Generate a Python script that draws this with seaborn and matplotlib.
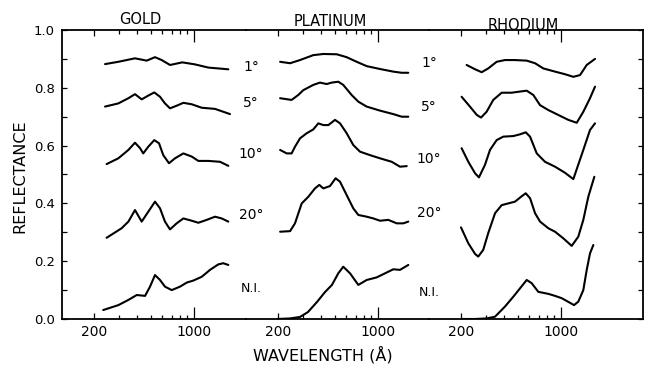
import numpy as np
import pandas as pd
import matplotlib
matplotlib.use('Agg')
import matplotlib.pyplot as plt
import matplotlib.transforms as mtransforms
from matplotlib.ticker import FixedLocator, NullFormatter, MultipleLocator
import seaborn as sns

# Reflectance curves: (wavelength in Angstrom, reflectance)
gold_1 = [(239, 0.882), (296, 0.890), (387, 0.902), (467, 0.894), (534, 0.906), (595, 0.896),
          (680, 0.879), (829, 0.888), (1017, 0.881), (1260, 0.870), (1739, 0.864)]
gold_5 = [(239, 0.735), (296, 0.746), (348, 0.764), (387, 0.778), (431, 0.760), (479, 0.773),
          (528, 0.784), (579, 0.769), (627, 0.746), (680, 0.729), (757, 0.738), (843, 0.748),
          (965, 0.743), (1133, 0.731), (1404, 0.727), (1787, 0.709)]
gold_10 = [(245, 0.536), (296, 0.556), (348, 0.585), (387, 0.610), (420, 0.591), (442, 0.573),
           (479, 0.596), (528, 0.619), (570, 0.608), (610, 0.567), (669, 0.539), (737, 0.556),
           (843, 0.573), (965, 0.562), (1073, 0.547), (1260, 0.547), (1521, 0.544), (1739, 0.530)]
gold_20 = [(245, 0.281), (312, 0.314), (348, 0.337), (387, 0.377), (431, 0.337), (479, 0.371),
           (534, 0.406), (579, 0.383), (627, 0.337), (680, 0.310), (757, 0.331), (843, 0.348),
           (965, 0.340), (1073, 0.333), (1228, 0.343), (1404, 0.354), (1563, 0.348), (1739, 0.337)]
gold_ni = [(232, 0.031), (296, 0.048), (348, 0.066), (398, 0.083), (455, 0.080), (493, 0.112),
           (534, 0.152), (579, 0.135), (627, 0.112), (699, 0.100), (799, 0.112), (890, 0.126),
           (990, 0.133), (1133, 0.146), (1295, 0.170), (1480, 0.189), (1604, 0.193), (1739, 0.187)]

pt_1 = [(207, 0.890), (243, 0.885), (285, 0.896), (353, 0.913), (415, 0.917), (515, 0.916),
        (604, 0.906), (710, 0.890), (834, 0.875), (1034, 0.865), (1280, 0.856), (1466, 0.852),
        (1630, 0.852)]
pt_5 = [(207, 0.764), (249, 0.758), (277, 0.775), (301, 0.792), (353, 0.810), (393, 0.818),
        (438, 0.813), (475, 0.818), (528, 0.821), (572, 0.810), (655, 0.775), (729, 0.752),
        (834, 0.735), (1034, 0.721), (1280, 0.709), (1466, 0.700), (1630, 0.700)]
pt_10 = [(207, 0.585), (230, 0.573), (249, 0.573), (263, 0.596), (285, 0.625), (318, 0.643),
         (353, 0.656), (383, 0.677), (415, 0.671), (450, 0.671), (501, 0.689), (543, 0.677),
         (604, 0.643), (672, 0.602), (749, 0.579), (880, 0.567), (1034, 0.556), (1248, 0.544),
         (1426, 0.527), (1589, 0.529)]
pt_20 = [(207, 0.302), (243, 0.304), (263, 0.331), (293, 0.400), (326, 0.423), (363, 0.452),
         (389, 0.464), (415, 0.452), (462, 0.460), (506, 0.487), (543, 0.475), (604, 0.429),
         (672, 0.383), (729, 0.360), (834, 0.354), (928, 0.348), (1034, 0.340), (1181, 0.343),
         (1353, 0.331), (1504, 0.331), (1630, 0.337)]
pt_ni = [(197, 0.000), (243, 0.002), (285, 0.007), (324, 0.024), (375, 0.059), (426, 0.093),
         (477, 0.118), (528, 0.158), (572, 0.181), (638, 0.158), (729, 0.118), (834, 0.135),
         (980, 0.144), (1120, 0.158), (1280, 0.172), (1426, 0.170), (1630, 0.187)]

rh_1 = [(219, 0.879), (251, 0.864), (279, 0.854), (310, 0.867), (355, 0.890), (406, 0.896),
        (477, 0.896), (576, 0.894), (659, 0.885), (753, 0.867), (909, 0.856), (1067, 0.847),
        (1220, 0.838), (1359, 0.844), (1514, 0.879), (1730, 0.900)]
rh_5 = [(202, 0.769), (231, 0.735), (258, 0.706), (276, 0.697), (302, 0.717), (336, 0.758),
        (385, 0.783), (452, 0.783), (517, 0.787), (576, 0.790), (641, 0.775), (714, 0.740),
        (816, 0.723), (958, 0.706), (1126, 0.689), (1289, 0.679), (1433, 0.717), (1596, 0.764),
        (1730, 0.804)]
rh_10 = [(202, 0.591), (225, 0.544), (251, 0.504), (267, 0.490), (294, 0.533), (319, 0.585),
         (355, 0.619), (395, 0.631), (464, 0.633), (517, 0.639), (567, 0.646), (608, 0.631),
         (677, 0.573), (773, 0.544), (909, 0.527), (1067, 0.506), (1220, 0.484), (1433, 0.585),
         (1596, 0.654), (1730, 0.677)]
rh_20 = [(200, 0.317), (225, 0.262), (251, 0.225), (264, 0.216), (286, 0.239), (310, 0.297),
         (346, 0.366), (385, 0.394), (428, 0.400), (477, 0.406), (526, 0.423), (567, 0.435),
         (608, 0.418), (659, 0.366), (714, 0.337), (816, 0.314), (909, 0.302), (1039, 0.279),
         (1189, 0.253), (1322, 0.285), (1433, 0.343), (1553, 0.423), (1711, 0.492)]
rh_ni = [(202, 0.000), (250, 0.000), (302, 0.002), (346, 0.008), (406, 0.043), (464, 0.077),
         (517, 0.106), (576, 0.135), (624, 0.124), (694, 0.094), (816, 0.087), (909, 0.080),
         (1012, 0.072), (1157, 0.056), (1234, 0.048), (1322, 0.060), (1433, 0.100), (1514, 0.170),
         (1596, 0.227), (1684, 0.256)]

metals = ['GOLD', 'PLATINUM', 'RHODIUM']
angles = ['1°', '5°', '10°', '20°', 'N.I.']
curves = {
    'GOLD': [gold_1, gold_5, gold_10, gold_20, gold_ni],
    'PLATINUM': [pt_1, pt_5, pt_10, pt_20, pt_ni],
    'RHODIUM': [rh_1, rh_5, rh_10, rh_20, rh_ni],
}

# label heights (reflectance) for the angle labels between panels
labels_gold_pt = [0.873, 0.746, 0.571, 0.360, 0.106]
labels_pt_rh = [0.885, 0.733, 0.553, 0.366, 0.091]

rows = []
for metal in metals:
    for angle, pts in zip(angles, curves[metal]):
        for wl, r in pts:
            rows.append((metal, angle, wl, r))
df = pd.DataFrame(rows, columns=['metal', 'angle', 'wavelength', 'reflectance'])

sns.set_style('ticks')
plt.rcParams['font.family'] = ['DejaVu Sans']
plt.rcParams['text.color'] = 'black'
plt.rcParams['xtick.color'] = 'black'
plt.rcParams['ytick.color'] = 'black'
plt.rcParams['axes.edgecolor'] = 'black'

fig = plt.figure(figsize=(6.51, 3.66), dpi=100)
xlims = [(119.5, 2311), (119.5, 2275), (119.5, 3746)]
widths = [np.log10(b / a) for a, b in xlims]
gs = fig.add_gridspec(1, 3, width_ratios=widths, wspace=0,
                      left=62 / 651, right=643 / 651, top=1 - 30 / 366, bottom=1 - 319 / 366)
axes = [fig.add_subplot(gs[0, i]) for i in range(3)]

title_pos = [(0.424, 1.035), (0.459, 1.028), (0.439, 1.017)]

for i, (ax, metal) in enumerate(zip(axes, metals)):
    ax.set_facecolor('none')
    ax.set_xscale('log')
    sub = df[df['metal'] == metal]
    sns.lineplot(data=sub, x='wavelength', y='reflectance', units='angle', estimator=None,
                 color='black', linewidth=1.5, legend=False, ax=ax,
                 solid_joinstyle='round', solid_capstyle='round')
    ax.set_xlim(*xlims[i])
    ax.set_ylim(0, 1.0)
    ax.set_xlabel('')
    ax.set_ylabel('')

    ax.set_xticks([200, 1000], labels=['200', '1000'])
    ax.xaxis.set_minor_locator(FixedLocator([300, 400, 500, 600, 700, 800, 900]))
    ax.xaxis.set_minor_formatter(NullFormatter())
    ax.tick_params(axis='x', which='major', direction='in', top=True, bottom=True,
                   length=8.5, width=0.9, labelsize=10, pad=4)
    ax.tick_params(axis='x', which='minor', direction='in', top=True, bottom=True,
                   length=3.2, width=0.9)
    # the 200 tick is shorter than the 1000 tick
    t200 = ax.xaxis.get_major_ticks()[0]
    t200.tick1line.set_markersize(4.5)
    t200.tick2line.set_markersize(4.5)

    ax.yaxis.set_major_locator(MultipleLocator(0.2))
    ax.yaxis.set_minor_locator(MultipleLocator(0.1))
    ax.yaxis.set_major_formatter(lambda v, p: f'{v:.1f}')

    for side in ['top', 'bottom', 'left', 'right']:
        ax.spines[side].set_linewidth(1.3)
    if i == 0:
        ax.spines['right'].set_visible(False)
        ax.tick_params(axis='y', which='both', direction='in', left=True, right=False,
                       length=3.8, width=0.9, labelsize=9.5, pad=5)
    elif i == 1:
        ax.spines['left'].set_visible(False)
        ax.spines['right'].set_visible(False)
        ax.tick_params(axis='y', which='both', left=False, right=False, labelleft=False)
    else:
        ax.spines['left'].set_visible(False)
        ax.tick_params(axis='y', which='both', direction='in', left=False, right=True,
                       labelleft=False, length=3.8, width=0.9)

    tx, ty = title_pos[i]
    ax.text(tx, ty, metal, transform=ax.transAxes, ha='center', va='center', fontsize=10.5)

# angle labels sitting between the panels
for ax, xfrac, ys in [(axes[0], 1.027, labels_gold_pt), (axes[1], 1.0, labels_pt_rh)]:
    trans = mtransforms.blended_transform_factory(ax.transAxes, ax.transData)
    for lab, y in zip(angles, ys):
        ax.text(xfrac, y, lab, transform=trans, ha='center', va='center',
                fontsize=10 if lab != 'N.I.' else 9, clip_on=False, zorder=10)

fig.text(20 / 651, 1 - 176 / 366, 'REFLECTANCE', rotation=90, ha='center', va='center',
         fontsize=11.5)
fig.text(323 / 651, 1 - 355 / 366, 'WAVELENGTH (Å)', ha='center', va='center', fontsize=11.5)

fig.savefig('out.png', dpi=100, facecolor='white')
